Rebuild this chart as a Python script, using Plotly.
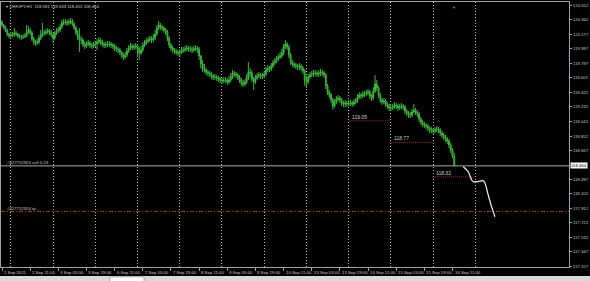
import plotly.graph_objects as go

# ---------------- data ----------------
first_open = 120.334
close = [120.295,120.269,120.230,120.178,120.152,120.165,120.165,120.191,120.178,120.152,
         120.139,120.139,120.139,120.152,120.204,120.230,120.191,120.113,120.074,120.061,
         120.074,120.126,120.165,120.191,120.191,120.204,120.217,120.204,120.165,120.126,
         120.191,120.217,120.230,120.269,120.321,120.334,120.334,120.321,120.334,120.347,
         120.308,120.256,120.191,120.139,120.100,120.100,120.048,120.022,120.048,120.061,
         120.035,120.022,120.035,120.048,120.074,120.100,120.074,120.048,120.035,120.035,
         120.048,120.048,120.035,120.022,119.996,119.983,119.970,119.944,119.905,119.879,
         119.905,119.957,119.996,120.022,120.009,120.009,120.022,119.983,119.931,119.970,
         120.035,120.061,120.087,120.100,120.113,120.100,120.126,120.178,120.256,120.295,
         120.269,120.256,120.230,120.204,120.126,120.035,119.996,119.970,119.957,119.944,
         119.931,119.944,119.957,119.970,119.983,119.996,119.983,119.983,119.970,119.983,
         119.996,119.983,119.892,119.788,119.723,119.710,119.684,119.671,119.658,119.632,
         119.619,119.619,119.606,119.593,119.580,119.567,119.580,119.580,119.554,119.580,
         119.619,119.671,119.658,119.645,119.619,119.580,119.541,119.528,119.554,119.606,
         119.684,119.671,119.593,119.554,119.606,119.632,119.645,119.632,119.632,119.658,
         119.710,119.736,119.723,119.762,119.801,119.827,119.853,119.879,119.892,119.931,
         120.009,120.048,120.009,119.905,119.814,119.788,119.775,119.762,119.749,119.762,
         119.736,119.697,119.580,119.554,119.619,119.645,119.658,119.671,119.671,119.658,
         119.671,119.684,119.671,119.645,119.502,119.424,119.385,119.320,119.242,119.294,
         119.333,119.346,119.320,119.281,119.268,119.281,119.268,119.281,119.281,119.268,
         119.294,119.307,119.359,119.385,119.372,119.398,119.398,119.411,119.424,119.372,
         119.346,119.437,119.528,119.476,119.385,119.320,119.294,119.307,119.268,119.242,
         119.216,119.216,119.229,119.255,119.242,119.216,119.229,119.242,119.229,119.177,
         119.151,119.125,119.125,119.164,119.190,119.164,119.138,119.073,119.034,119.008,
         118.995,118.982,118.956,118.930,118.930,118.917,118.930,118.943,118.930,118.891,
         118.865,118.839,118.813,118.787,118.735,118.670,118.591,118.464]
high = [120.360,120.308,120.282,120.243,120.191,120.204,120.204,120.256,120.217,120.191,
        120.178,120.165,120.178,120.191,120.295,120.282,120.256,120.217,120.139,120.100,
        120.113,120.165,120.230,120.321,120.230,120.243,120.256,120.243,120.230,120.191,
        120.217,120.256,120.269,120.308,120.360,120.373,120.373,120.360,120.373,120.386,
        120.373,120.334,120.282,120.230,120.256,120.152,120.126,120.074,120.087,120.100,
        120.087,120.061,120.074,120.087,120.113,120.139,120.126,120.100,120.074,120.074,
        120.087,120.087,120.074,120.061,120.048,120.022,120.009,119.996,119.957,119.931,
        119.944,119.996,120.035,120.061,120.048,120.048,120.061,120.048,120.009,120.022,
        120.074,120.100,120.126,120.139,120.152,120.152,120.178,120.230,120.295,120.347,
        120.321,120.295,120.282,120.256,120.230,120.152,120.061,120.022,119.996,119.983,
        119.970,119.983,120.009,120.009,120.022,120.035,120.022,120.022,120.009,120.022,
        120.035,120.022,120.009,119.905,119.840,119.788,119.736,119.710,119.697,119.684,
        119.658,119.658,119.645,119.632,119.619,119.606,119.619,119.619,119.606,119.632,
        119.671,119.710,119.697,119.684,119.671,119.645,119.606,119.580,119.593,119.658,
        119.814,119.736,119.710,119.619,119.645,119.671,119.684,119.671,119.671,119.697,
        119.749,119.775,119.762,119.801,119.840,119.866,119.892,119.918,119.944,119.983,
        120.048,120.100,120.074,120.035,119.931,119.840,119.814,119.801,119.788,119.801,
        119.788,119.762,119.723,119.632,119.658,119.684,119.697,119.710,119.710,119.697,
        119.710,119.723,119.710,119.697,119.671,119.528,119.450,119.411,119.346,119.333,
        119.372,119.385,119.372,119.346,119.307,119.320,119.307,119.320,119.320,119.307,
        119.333,119.346,119.398,119.424,119.411,119.437,119.437,119.450,119.463,119.450,
        119.398,119.489,119.645,119.580,119.502,119.411,119.346,119.346,119.333,119.294,
        119.268,119.255,119.268,119.294,119.281,119.268,119.268,119.281,119.268,119.255,
        119.203,119.177,119.164,119.203,119.268,119.216,119.190,119.164,119.099,119.060,
        119.034,119.021,119.008,118.982,118.969,118.956,118.969,118.982,118.969,118.956,
        118.917,118.891,118.865,118.839,118.813,118.761,118.696,118.633]
low = [120.269,120.243,120.204,120.152,120.126,120.126,120.139,120.139,120.152,120.126,
       120.113,120.100,120.113,120.126,120.139,120.178,120.165,120.087,120.035,120.022,
       120.035,120.048,120.100,120.139,120.152,120.165,120.178,120.165,120.139,120.061,
       120.100,120.165,120.191,120.204,120.243,120.295,120.295,120.282,120.295,120.308,
       120.282,120.230,120.165,120.100,119.944,120.048,120.009,119.983,119.996,120.022,
       119.996,119.983,119.996,120.009,119.970,120.048,120.035,120.009,119.996,119.996,
       120.009,120.009,119.996,119.983,119.957,119.944,119.931,119.905,119.866,119.840,
       119.853,119.879,119.931,119.970,119.970,119.970,119.983,119.879,119.840,119.905,
       119.944,120.009,120.035,120.061,120.074,120.061,120.074,120.100,120.152,120.230,
       120.230,120.217,120.191,120.165,120.087,119.996,119.957,119.931,119.918,119.905,
       119.892,119.892,119.918,119.931,119.944,119.957,119.944,119.944,119.931,119.944,
       119.957,119.931,119.840,119.736,119.684,119.671,119.645,119.632,119.619,119.593,
       119.580,119.580,119.567,119.554,119.541,119.528,119.541,119.541,119.515,119.528,
       119.554,119.593,119.619,119.606,119.580,119.541,119.502,119.489,119.502,119.528,
       119.580,119.619,119.554,119.450,119.528,119.580,119.606,119.593,119.593,119.606,
       119.632,119.684,119.684,119.697,119.736,119.775,119.801,119.827,119.853,119.866,
       119.905,119.983,119.970,119.866,119.775,119.749,119.736,119.723,119.710,119.710,
       119.697,119.658,119.502,119.476,119.528,119.593,119.619,119.619,119.632,119.619,
       119.619,119.632,119.632,119.606,119.463,119.385,119.346,119.281,119.190,119.216,
       119.268,119.307,119.281,119.242,119.229,119.229,119.229,119.242,119.242,119.229,
       119.242,119.268,119.281,119.333,119.333,119.346,119.359,119.372,119.385,119.333,
       119.307,119.320,119.411,119.437,119.346,119.281,119.255,119.268,119.229,119.203,
       119.177,119.177,119.190,119.203,119.203,119.177,119.190,119.203,119.190,119.138,
       119.112,119.086,119.086,119.099,119.151,119.125,119.099,119.034,118.995,118.969,
       118.956,118.943,118.917,118.891,118.891,118.878,118.891,118.904,118.891,118.852,
       118.826,118.800,118.774,118.748,118.696,118.631,118.566,118.451]

time_label_bars = [0, 16, 32, 48, 64, 80, 96, 112, 128, 144, 160, 176, 192, 208, 224, 240, 256]
time_labels = ["1 Sep 2021", "2 Sep 11:00", "3 Sep 03:00", "3 Sep 19:00", "6 Sep 11:00",
               "7 Sep 03:00", "7 Sep 19:00", "8 Sep 11:00", "9 Sep 03:00", "9 Sep 19:00",
               "10 Sep 11:00", "13 Sep 03:00", "13 Sep 19:00", "14 Sep 11:00",
               "15 Sep 03:00", "15 Sep 19:00", "16 Sep 11:00"]
day_start_bars = [5, 29, 53, 77, 101, 125, 149, 173, 197, 221, 245, 269]

price_ticks = [117.157, 117.347, 117.532, 117.722, 117.912, 118.102, 118.287, 118.667,
               118.852, 119.042, 119.232, 119.422, 119.607, 119.797, 119.987, 120.177,
               120.362, 120.552]
price_tick_text = ["117.157", "117.347", "117.532", "117.722", "117.912", "118.102", "118.287",
                   "118.667", "118.852", "119.042", "119.232", "119.422", "119.607", "119.797",
                   "119.987", "120.177", "120.362", "120.552"]

symbol_header = "▾ CHFJPY,H1  118.591 118.633 118.451 118.464"
current_price = 118.464
sell_label = "#427752924 sell 0.23"
tp_price = 117.870
tp_label = "#427752924 tp"

level_values = [119.05, 118.77, 118.32]
level_labels = ["119.05", "118.77", "118.32"]
level_start_bars = [197, 221, 245]
level_end_bars = [221, 245, 269]

forecast_x = [262.1, 264.9, 266.9, 267.8, 270.5, 273.5, 274.4, 276.3, 278.2, 280.1]
forecast_y = [118.453, 118.388, 118.280, 118.258, 118.260, 118.270, 118.241, 118.085, 117.933, 117.803]

# ---------------- figure ----------------
bars = list(range(len(close)))
opens = [first_open] + close[:-1]

GREEN = "#38b838"
fig = go.Figure()
fig.add_trace(go.Candlestick(
    x=bars, open=opens, high=high, low=low, close=close,
    increasing=dict(line=dict(color=GREEN, width=1), fillcolor="#62dc62"),
    decreasing=dict(line=dict(color=GREEN, width=1), fillcolor="#2a8f2a"),
    whiskerwidth=0, hoverinfo="skip", showlegend=False))

fig.add_trace(go.Scatter(x=forecast_x, y=forecast_y, mode="lines",
                         line=dict(color="#f0f0f0", width=1.2, shape="spline"),
                         hoverinfo="skip", showlegend=False))

FONT = "Liberation Sans, Arial, sans-serif"
TXT = "#c8c8c8"
shapes = []
annotations = []

# order lines
shapes.append(dict(type="line", xref="paper", x0=0, x1=1, yref="y", y0=current_price, y1=current_price,
                   line=dict(color="#a8a8a8", width=1), layer="below"))
shapes.append(dict(type="line", xref="paper", x0=0, x1=1, yref="y", y0=tp_price, y1=tp_price,
                   line=dict(color="#b02a2a", width=1, dash="4px,2px,1px,2px"), layer="below"))
annotations.append(dict(xref="paper", x=0, xshift=4, y=current_price, yshift=3, text=sell_label,
                        showarrow=False, xanchor="left", yanchor="middle",
                        font=dict(size=4.3, color=TXT, family=FONT)))
annotations.append(dict(xref="paper", x=0, xshift=4, y=tp_price, yshift=3, text=tp_label,
                        showarrow=False, xanchor="left", yanchor="middle",
                        font=dict(size=4.3, color=TXT, family=FONT)))

# daily levels
for v, lab, s, e in zip(level_values, level_labels, level_start_bars, level_end_bars):
    shapes.append(dict(type="line", xref="x", x0=s, x1=e, yref="y", y0=v, y1=v,
                       line=dict(color="#a82828", width=1, dash="1px,1px"), layer="below"))
    annotations.append(dict(xref="x", x=s, xshift=1, y=v, yshift=4, text=lab, showarrow=False,
                            xanchor="left", yanchor="middle",
                            font=dict(size=5, color="#d0d0d0", family=FONT)))

# time labels
for b, lab in zip(time_label_bars, time_labels):
    annotations.append(dict(xref="x", x=b, xshift=0, yref="paper", y=0, yshift=-5, text=lab,
                            showarrow=False, xanchor="left", yanchor="middle",
                            font=dict(size=4.3, color=TXT, family=FONT)))

# header
annotations.append(dict(xref="paper", x=0, xshift=3, yref="paper", y=1, yshift=-4,
                        text=symbol_header, showarrow=False, xanchor="left", yanchor="middle",
                        font=dict(size=4.3, color="#d8d8d8", family=FONT)))
# current price badge on axis
annotations.append(dict(xref="paper", x=1, xshift=1, y=current_price, text=str(current_price),
                        showarrow=False, xanchor="left", yanchor="middle", bgcolor="#ffffff",
                        borderpad=0, font=dict(size=4.3, color="#000000", family=FONT)))
# shift marker
annotations.append(dict(xref="x", x=len(close) - 1, yref="paper", y=1, yshift=-1, text="▼",
                        showarrow=False, xanchor="center", yanchor="top",
                        font=dict(size=4, color="#909090", family=FONT)))

# bottom tab strip (window chrome)
px = 1.0 / 265.0
shapes.append(dict(type="rect", xref="paper", yref="paper", x0=-0.01, x1=1.05,
                   y0=-(281 - 267) * px - 0.01, y1=-(276 - 267) * px,
                   fillcolor="#d9d9d9", line=dict(width=0)))
shapes.append(dict(type="rect", xref="paper", yref="paper", x0=(110 - 1) / 568, x1=(144 - 1) / 568,
                   y0=-(281 - 267) * px - 0.01, y1=-(277 - 267) * px,
                   fillcolor="#ffffff", line=dict(color="#8a8a8a", width=0.6)))

fig.update_layout(
    width=590, height=281,
    margin=dict(l=1, r=21, t=2, b=14, pad=0),
    paper_bgcolor="#000000", plot_bgcolor="#000000",
    shapes=shapes, annotations=annotations,
    xaxis=dict(range=[-0.57, 322.2], tickmode="array", tickvals=day_start_bars,
               showticklabels=False, ticks="", showgrid=True, gridcolor="#b8b8b8",
               griddash="1px,2px", gridwidth=1, zeroline=False,
               showline=True, linecolor="#a0a0a0", linewidth=1, mirror=True,
               rangeslider=dict(visible=False),
               minor=dict(tickmode="array", tickvals=time_label_bars, ticks="outside",
                          ticklen=3, tickcolor="#a0a0a0", showgrid=False)),
    yaxis=dict(range=[117.149, 120.594], side="right", tickmode="array",
               tickvals=price_ticks, ticktext=price_tick_text, showgrid=False,
               ticks="outside", ticklen=2, tickcolor="#a0a0a0", zeroline=False,
               showline=True, linecolor="#a0a0a0", linewidth=1, mirror=True,
               tickfont=dict(size=4.3, color=TXT, family=FONT)),
    showlegend=False,
)

fig.write_html("out.html")
